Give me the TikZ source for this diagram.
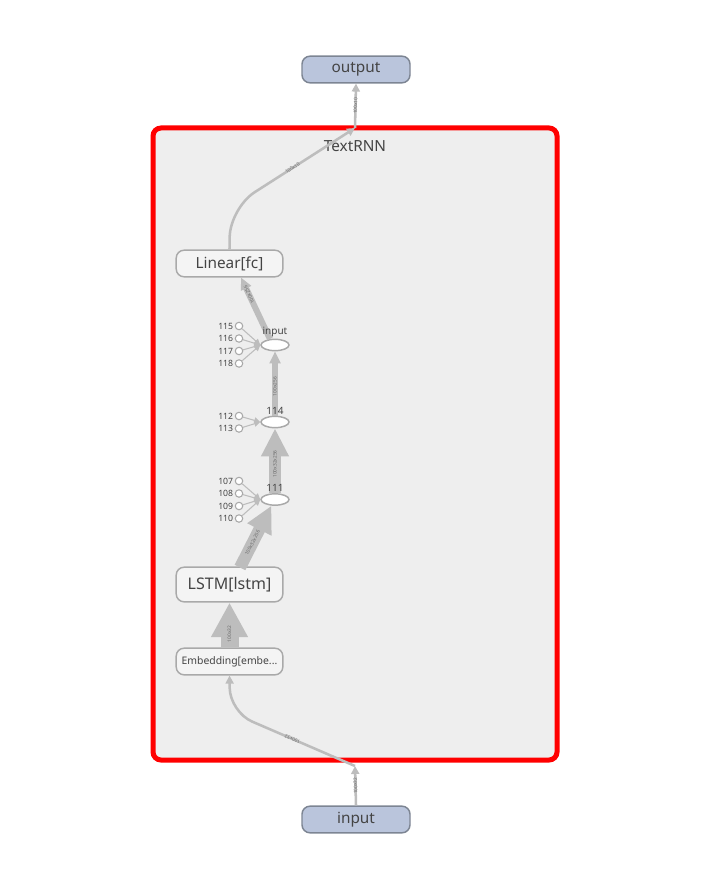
\documentclass[tikz,border=0pt]{standalone}
\usepackage{fontspec}
\setmainfont{Noto Sans}
\usetikzlibrary{arrows.meta,shapes.geometric}
\definecolor{edgegray}{HTML}{BDBDBD}
\definecolor{boxgray}{HTML}{A9A9A9}
\definecolor{txtgray}{HTML}{444444}
\definecolor{opfill}{HTML}{F4F4F4}
\definecolor{groupfill}{HTML}{EEEEEE}
\definecolor{iofill}{HTML}{BAC5DC}
\definecolor{ioborder}{HTML}{7D8593}
\tikzset{
  groupbox/.style={draw=red, fill=groupfill, line width=3.75pt, rounded corners=6pt},
  opnode/.style={draw=boxgray, fill=opfill, line width=1.1pt, rounded corners=6pt,
    minimum width=80pt, minimum height=20pt, inner sep=1pt, text=txtgray, font=\fontsize{11.5}{13}\selectfont},
  ionode/.style={opnode, draw=ioborder, fill=iofill, minimum width=81pt},
  concat/.style={ellipse, draw=boxgray, fill=white, line width=1.1pt, minimum width=21pt, minimum height=8.5pt, inner sep=0pt},
  const/.style={circle, draw=boxgray, fill=white, line width=0.8pt, minimum size=5.6pt, inner sep=0pt},
  numlabel/.style={left, inner sep=1pt, text=txtgray, font=\fontsize{6.5}{7}\selectfont},
  catlabel/.style={above, inner sep=1pt, text=txtgray, font=\fontsize{7.5}{8}\selectfont},
  edge/.style={draw=edgegray, line width=1.9pt, -{Triangle[width=6pt,length=6pt]}},
  thinedge/.style={draw=edgegray, line width=0.8pt, -{Triangle[width=4.5pt,length=4.5pt]}},
  elabel/.style={sloped, allow upside down, inner sep=0.5pt, text=txtgray!80, font=\fontsize{3.6}{4}\selectfont}
}
\begin{document}
\begin{tikzpicture}[x=0.75pt,y=-0.75pt]
\useasboundingbox (0,0) rectangle (706,880);
% group
\draw[groupbox] (153,128) rectangle (557,760);
\node[text=txtgray, font=\fontsize{11.5}{13}\selectfont] (title) at (355,146) {TextRNN};
\coordinate (outgate) at (355,128);
\coordinate (ingate) at (355,766);
% outer nodes
\node[ionode] (output) at (356,69.5) {output};
\node[ionode] (input) at (356,819.5) {input};
% ops
\node[opnode] (fc) at (229.5,263.5) {Linear[fc]};
\node[opnode, minimum height=26pt, font=\fontsize{12}{14}\selectfont] (lstm) at (229.5,584.5) {LSTM[lstm]};
\node[opnode, font=\fontsize{7.8}{9}\selectfont] (emb) at (229.5,661.5) {Embedding[embe...};
% concat nodes
\node[concat] (catin) at (275,345) {};
\node[concat] (cat114) at (275,422) {};
\node[concat] (cat111) at (275,499.5) {};
% constants
\node[const] (c115) at (239,326) {};
\node[numlabel] at (c115.west) {115};
\node[const] (c116) at (239,338.5) {};
\node[numlabel] at (c116.west) {116};
\node[const] (c117) at (239,351) {};
\node[numlabel] at (c117.west) {117};
\node[const] (c118) at (239,363.5) {};
\node[numlabel] at (c118.west) {118};
\node[const] (c112) at (239,416) {};
\node[numlabel] at (c112.west) {112};
\node[const] (c113) at (239,428.5) {};
\node[numlabel] at (c113.west) {113};
\node[const] (c107) at (239,481) {};
\node[numlabel] at (c107.west) {107};
\node[const] (c108) at (239,493.5) {};
\node[numlabel] at (c108.west) {108};
\node[const] (c109) at (239,506) {};
\node[numlabel] at (c109.west) {109};
\node[const] (c110) at (239,518.5) {};
\node[numlabel] at (c110.west) {110};
\draw[thinedge] (c115) -- (catin.west);
\draw[thinedge] (c116) -- (catin.west);
\draw[thinedge] (c117) -- (catin.west);
\draw[thinedge] (c118) -- (catin.west);
\draw[thinedge] (c112) -- (cat114.west);
\draw[thinedge] (c113) -- (cat114.west);
\draw[thinedge] (c107) -- (cat111.west);
\draw[thinedge] (c108) -- (cat111.west);
\draw[thinedge] (c109) -- (cat111.west);
\draw[thinedge] (c110) -- (cat111.west);
% data edges
\draw[edge] (input.north) -- node[elabel]{100x32} (ingate);
\draw[edge, rounded corners=18pt] (ingate) -- node[elabel]{100x32} (230,712) -- (emb.south);
\draw[draw=edgegray, line width=13.5pt, -{Triangle[width=26pt,length=26pt]}] (emb.north) -- node[elabel, pos=0.3]{100x32} (lstm.south);
\draw[draw=edgegray, line width=9pt, -{Triangle[width=19pt,length=20pt]}] (240,567.5) -- node[elabel, pos=0.4]{100x32x256} (cat111.-120);
\draw[draw=edgegray, line width=9pt, -{Triangle[width=19.5pt,length=21pt]}] (cat111.north) -- node[elabel, pos=0.45]{100x32x256} (cat114.south);
\draw[draw=edgegray, line width=4.5pt, -{Triangle[width=8pt,length=9pt]}] (cat114.north) -- node[elabel, pos=0.45]{100x256} (catin.south);
\draw[draw=edgegray, line width=4.5pt, -{Triangle[width=8pt,length=9pt]}] (catin.130) -- node[elabel, pos=0.72]{100x256} (241,277.5);
\draw[edge, rounded corners=22pt] (fc.north) -- (230,208) -- node[elabel]{100x10} (outgate);
\draw[edge] (outgate) -- node[elabel]{100x10} (output.south);
% concat labels on top
\node[catlabel] at (catin.north) {input};
\node[catlabel] at (cat114.north) {114};
\node[catlabel] at (cat111.north) {111};
\end{tikzpicture}
\end{document}
